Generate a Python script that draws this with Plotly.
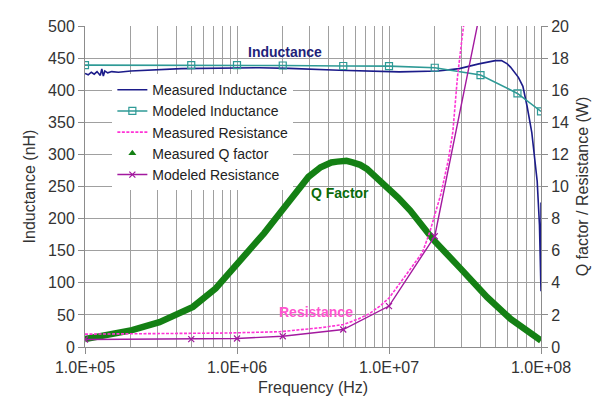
import plotly.graph_objects as go

# ---------------- data ----------------
meas_L_freq = [1.0e5, 1.05e5, 1.1e5, 1.15e5, 1.2e5, 1.26e5, 1.29e5, 1.32e5, 1.35e5,
               1.41e5, 1.5e5, 1.66e5, 2.0e5, 2.8e5, 4.3e5, 1.4e6, 2.2e6, 4.7e6,
               1.17e7, 2.1e7, 2.9e7, 3.9e7, 5.0e7, 5.5e7, 6.0e7, 6.3e7, 7.1e7,
               7.6e7, 8.1e7, 8.7e7, 9.1e7, 9.44e7, 9.77e7, 9.93e7, 1.0e8, 1.0e8]
meas_L = [426, 424, 428, 425, 429, 423, 433, 422, 430,
          427, 429, 428, 430, 432, 433.6, 435, 434, 431,
          428.6, 430, 433.6, 441, 446, 446, 441, 436, 420,
          406, 375, 334, 296, 258, 190, 130, 87, 225]

mod_L_freq = [1e5, 5e5, 1e6, 2e6, 5e6, 1e7, 2e7, 4e7, 7e7, 1e8]
mod_L = [439, 439, 439, 438.5, 437.7, 437.5, 435, 423.6, 395, 367]

meas_R_freq = [1.0e5, 3.16e5, 8.5e5, 1.9e6, 2.57e6, 3.55e6, 5.0e6, 6.3e6, 7.5e6,
               8.7e6, 1.0e7, 1.17e7, 1.38e7, 1.66e7, 1.86e7, 2.19e7, 2.45e7,
               2.63e7, 2.82e7, 3.02e7, 3.24e7]
meas_R = [0.8, 0.82, 0.87, 0.95, 1.05, 1.2, 1.4, 1.75, 2.1,
          2.55, 3.05, 3.9, 4.85, 5.9, 7.2, 9.5, 11.6,
          13.4, 16.8, 19.2, 21.5]

q_freq = [1.0e5, 1.41e5, 2.04e5, 3.09e5, 4.22e5, 5.13e5, 7.24e5, 1.0e6, 1.17e6,
          1.51e6, 1.9e6, 2.45e6, 2.95e6, 3.55e6, 4.17e6, 4.57e6, 5.25e6, 5.75e6,
          6.46e6, 7.16e6, 8.7e6, 9.77e6, 1.15e7, 1.38e7, 1.95e7, 2.95e7, 4.42e7,
          6.31e7, 7.94e7, 9.33e7, 1.0e8]
q_vals = [0.5, 0.75, 1.05, 1.55, 2.1, 2.5, 3.65, 5.15, 5.9,
          7.1, 8.3, 9.7, 10.6, 11.2, 11.5, 11.55, 11.6, 11.5,
          11.35, 11.1, 10.4, 10.0, 9.3, 8.5, 6.7, 4.9, 3.1,
          1.75, 1.05, 0.6, 0.4]

mod_R_freq = [1e5, 5e5, 1e6, 2e6, 5e6, 1e7, 2e7, 4e7]
mod_R = [0.47, 0.49, 0.53, 0.67, 1.09, 2.55, 6.9, 21]

x_tick_vals = [1e5, 1e6, 1e7, 1e8]
x_tick_text = ["1.0E+05", "1.0E+06", "1.0E+07", "1.0E+08"]

# ---------------- styles ----------------
NAVY = "#1C1C8A"
TEAL = "#2E9A96"
PINK = "#FF33D6"
PURPLE = "#A3199F"
GREEN = "#148014"
GRID = "#A0A0A0"
AX = "#8C8C8C"
TXT = "#333333"
FONT = "Liberation Sans, Arial, sans-serif"

minor_vals = [m * 10 ** d for d in range(5, 8) for m in range(2, 10)]

fig = go.Figure()

# Q factor thick line (no legend; legend uses triangle marker)
fig.add_trace(go.Scatter(x=q_freq, y=q_vals, mode="lines", yaxis="y2",
                         line=dict(color=GREEN, width=6.5), showlegend=False,
                         name="Measured Q factor"))

fig.add_trace(go.Scatter(x=meas_L_freq, y=meas_L, mode="lines",
                         line=dict(color=NAVY, width=1.6),
                         name="Measured Inductance"))
fig.add_trace(go.Scatter(x=mod_L_freq, y=mod_L, mode="lines+markers",
                         line=dict(color=TEAL, width=1.6),
                         marker=dict(symbol="square-open", size=7, color=TEAL,
                                     line=dict(width=1.2)),
                         name="Modeled Inductance"))
fig.add_trace(go.Scatter(x=meas_R_freq, y=meas_R, mode="lines", yaxis="y2",
                         line=dict(color=PINK, width=1.6, dash="3px,1.5px"),
                         name="Measured Resistance"))
fig.add_trace(go.Scatter(x=[None], y=[None], mode="markers", yaxis="y2",
                         marker=dict(symbol="triangle-up", size=7, color=GREEN),
                         name="Measured Q factor"))
fig.add_trace(go.Scatter(x=mod_R_freq, y=mod_R, mode="lines+markers", yaxis="y2",
                         line=dict(color=PURPLE, width=1.4),
                         marker=dict(symbol="x-thin", size=6,
                                     line=dict(color=PURPLE, width=1.2)),
                         name="Modeled Resistance"))

fig.update_layout(
    width=602, height=401,
    margin=dict(l=77, r=69, t=10, b=62),
    paper_bgcolor="white", plot_bgcolor="white",
    font=dict(family=FONT, size=16, color=TXT),
    xaxis=dict(type="log", range=[5, 8], tickvals=x_tick_vals, ticktext=x_tick_text,
               ticks="outside", ticklen=6, tickcolor=AX, showline=True, linecolor=AX,
               showgrid=True, gridcolor=GRID, gridwidth=1,
               minor=dict(tickvals=minor_vals, showgrid=True, gridcolor=GRID,
                          gridwidth=1, ticks=""),
               title=dict(text="Frequency (Hz)", font=dict(size=16, color=TXT), standoff=6),
               tickfont=dict(size=16, color=TXT), zeroline=False),
    yaxis=dict(range=[0, 500], tick0=0, dtick=50, ticks="outside", ticklen=6,
               tickcolor=AX, showline=True, linecolor=AX, showgrid=True,
               gridcolor=GRID, zeroline=False,
               title=dict(text="Inductance (nH)", font=dict(size=16, color=TXT), standoff=8),
               tickfont=dict(size=16, color=TXT)),
    yaxis2=dict(range=[0, 20], tick0=0, dtick=2, overlaying="y", side="right",
                ticks="outside", ticklen=6, tickcolor=AX, showline=True, linecolor=AX,
                showgrid=False, zeroline=False,
                title=dict(text="Q factor / Resistance (W)", font=dict(size=16, color=TXT),
                           standoff=8),
                tickfont=dict(size=16, color=TXT)),
    legend=dict(x=0.06, y=0.85, xanchor="left", yanchor="top",
                bgcolor="white", borderwidth=0,
                font=dict(family=FONT, size=14, color="#222222"),
                itemwidth=30),
    annotations=[
        dict(x=6.316, y=459, xref="x", yref="y", text="<b>Inductance</b>",
             showarrow=False, font=dict(family=FONT, size=14, color="#1F1F7A")),
        dict(x=6.678, y=240, xref="x", yref="y", text="<b>Q Factor</b>",
             showarrow=False, font=dict(family=FONT, size=14, color="#0B6B0B")),
        dict(x=6.52, y=55, xref="x", yref="y", text="<b>Resistance</b>",
             showarrow=False, font=dict(family=FONT, size=14, color="#FF55D0")),
    ],
)

fig.write_html("out.html")
